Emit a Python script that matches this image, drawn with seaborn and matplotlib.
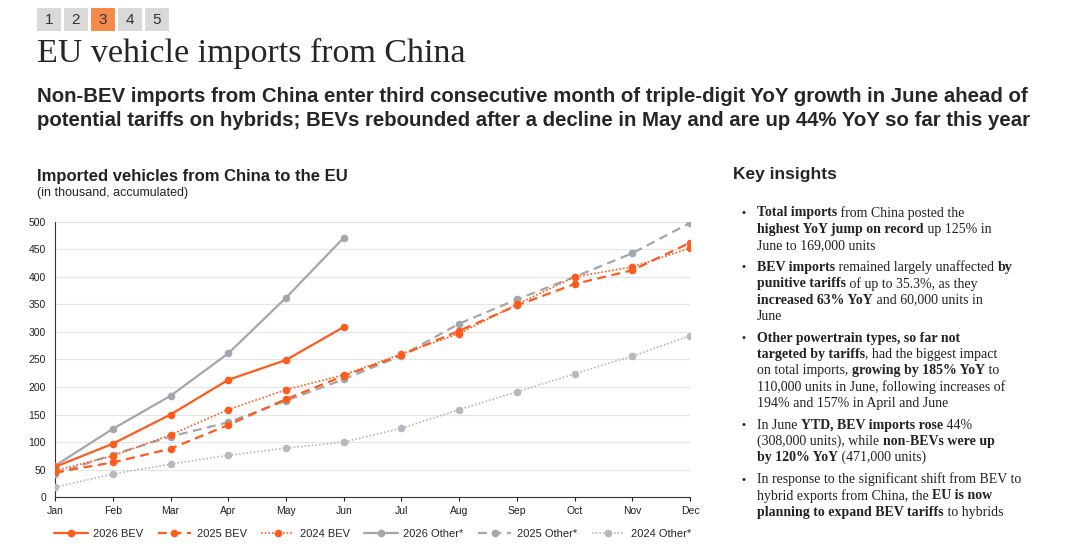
import matplotlib
matplotlib.use("Agg")
import matplotlib.pyplot as plt
import seaborn as sns
import pandas as pd
from matplotlib.patches import Rectangle

months = ["Jan", "Feb", "Mar", "Apr", "May", "Jun", "Jul", "Aug", "Sep", "Oct", "Nov", "Dec"]
bev_2026 = [55, 97, 150, 213, 249, 309]
bev_2025 = [45, 63, 88, 131, 178, 220, 258, 302, 348, 387, 412, 462]
bev_2024 = [48, 75, 113, 159, 195, 222, 260, 297, 350, 400, 418, 452]
oth_2026 = [57, 124, 184, 261, 362, 471]
oth_2025 = [42, 77, 110, 136, 175, 214, 257, 315, 359, 400, 443, 498]
oth_2024 = [18, 42, 60, 76, 89, 100, 125, 159, 191, 224, 256, 293]

series = [
    ("2026 BEV", bev_2026, "#fe5b1d", "-", 1.6),
    ("2025 BEV", bev_2025, "#fe5b1d", (0, (4, 2.5)), 1.6),
    ("2024 BEV", bev_2024, "#fe5b1d", (0, (1, 1.2)), 1.2),
    ("2026 Other*", oth_2026, "#a4a6ae", "-", 1.6),
    ("2025 Other*", oth_2025, "#a4a6ae", (0, (4, 2.5)), 1.6),
    ("2024 Other*", oth_2024, "#b8b9c0", (0, (1, 1.2)), 1.2),
]

sns.set_style("white")
plt.rcParams["font.family"] = ["Liberation Sans", "DejaVu Sans"]
fig = plt.figure(figsize=(10.8, 5.53), dpi=100)
ax = fig.add_axes([0.051, 0.101, 0.588, 0.498])

draw_order = [5, 4, 3, 2, 1, 0]
for i in draw_order:
    name, vals, col, ls, lw = series[i]
    df = pd.DataFrame({"m": range(len(vals)), "v": vals})
    sns.lineplot(data=df, x="m", y="v", ax=ax, color=col, linestyle=ls, linewidth=lw,
                 marker="o", markersize=5.5, markeredgewidth=0, label=name, zorder=3 + (i < 3))

handles, labels = ax.get_legend_handles_labels()
order = [labels.index(s[0]) for s in series]
ax.legend([handles[k] for k in order], [labels[k] for k in order], loc="upper center",
          bbox_to_anchor=(0.5, -0.08), ncol=6, frameon=False, fontsize=8,
          handlelength=3, columnspacing=1.3, handletextpad=0.5)

ax.set_xlim(0, 11)
ax.set_ylim(0, 500)
ax.set_xticks(range(12))
ax.set_xticklabels(months)
ax.set_yticks(range(0, 501, 50))
ax.tick_params(labelsize=7.5, length=3, colors="#222222")
ax.tick_params(axis="x", direction="out", bottom=True)
ax.grid(axis="y", color="#e4e4e4", linewidth=0.8)
ax.set_xlabel("")
ax.set_ylabel("")
for s in ["top", "right"]:
    ax.spines[s].set_visible(False)
for s in ["left", "bottom"]:
    ax.spines[s].set_color("#333333")
    ax.spines[s].set_linewidth(0.8)

# page tabs
for k in range(5):
    x0 = 37 + k * 27
    fc = "#f58a4b" if k == 2 else "#d9d9d9"
    fig.patches.append(Rectangle((x0 / 1080, 1 - 31 / 553), 24 / 1080, 23 / 553,
                                 transform=fig.transFigure, facecolor=fc, edgecolor="none"))
    fig.text((x0 + 12) / 1080, 1 - 19.5 / 553, str(k + 1), ha="center", va="center",
             fontsize=11, color="#333333")

fig.text(37 / 1080, 1 - 53 / 553, "EU vehicle imports from China", fontsize=24.5,
         family="Liberation Serif", va="center")
fig.text(37 / 1080, 1 - 97 / 553,
         "Non-BEV imports from China enter third consecutive month of triple-digit YoY growth in June ahead of",
         fontsize=14.7, weight="bold", va="center")
fig.text(37 / 1080, 1 - 121 / 553,
         "potential tariffs on hybrids; BEVs rebounded after a decline in May and are up 44% YoY so far this year",
         fontsize=14.7, weight="bold", va="center")
fig.text(37 / 1080, 1 - 176 / 553, "Imported vehicles from China to the EU", fontsize=12,
         weight="bold", va="center", color="#222222")
fig.text(37 / 1080, 1 - 193 / 553, "(in thousand, accumulated)", fontsize=9, va="center")
fig.text(733 / 1080, 1 - 175 / 553, "Key insights", fontsize=12.5, weight="bold", va="center")

# bullets with mixed bold runs
bullets = [
    [[("Total imports", 1), (" from China posted the", 0)],
     [("highest YoY jump on record", 1), (" up 125% in", 0)],
     [("June to 169,000 units", 0)]],
    [[("BEV imports", 1), (" remained largely unaffected ", 0), ("by", 1)],
     [("punitive tariffs", 1), (" of up to 35.3%, as they", 0)],
     [("increased 63% YoY", 1), (" and 60,000 units in", 0)],
     [("June", 0)]],
    [[("Other powertrain types, so far not", 1)],
     [("targeted by tariffs", 1), (", had the biggest impact", 0)],
     [("on total imports, ", 0), ("growing by 185% YoY", 1), (" to", 0)],
     [("110,000 units in June, following increases of", 0)],
     [("194% and 157% in April and June", 0)]],
    [[("In June ", 0), ("YTD, BEV imports rose", 1), (" 44%", 0)],
     [("(308,000 units), while ", 0), ("non-BEVs were up", 1)],
     [("by 120% YoY", 1), (" (471,000 units)", 0)]],
    [[("In response to the significant shift from BEV to", 0)],
     [("hybrid exports from China, the ", 0), ("EU is now", 1)],
     [("planning to expand BEV tariffs", 1), (" to hybrids", 0)]],
]
fig.canvas.draw()
renderer = fig.canvas.get_renderer()
y = 213
lh = 16.3
for b in bullets:
    fig.text(741 / 1080, 1 - y / 553, "\u2022", fontsize=8, va="center")
    for line in b:
        x = 757
        for txt, bold in line:
            t = fig.text(x / 1080, 1 - y / 553, txt, fontsize=10, family="Liberation Serif",
                         weight="bold" if bold else "normal", va="center", color="#222222")
            x += t.get_window_extent(renderer).width
        y += lh
    y += 5.5

fig.savefig("out.png", dpi=100)
